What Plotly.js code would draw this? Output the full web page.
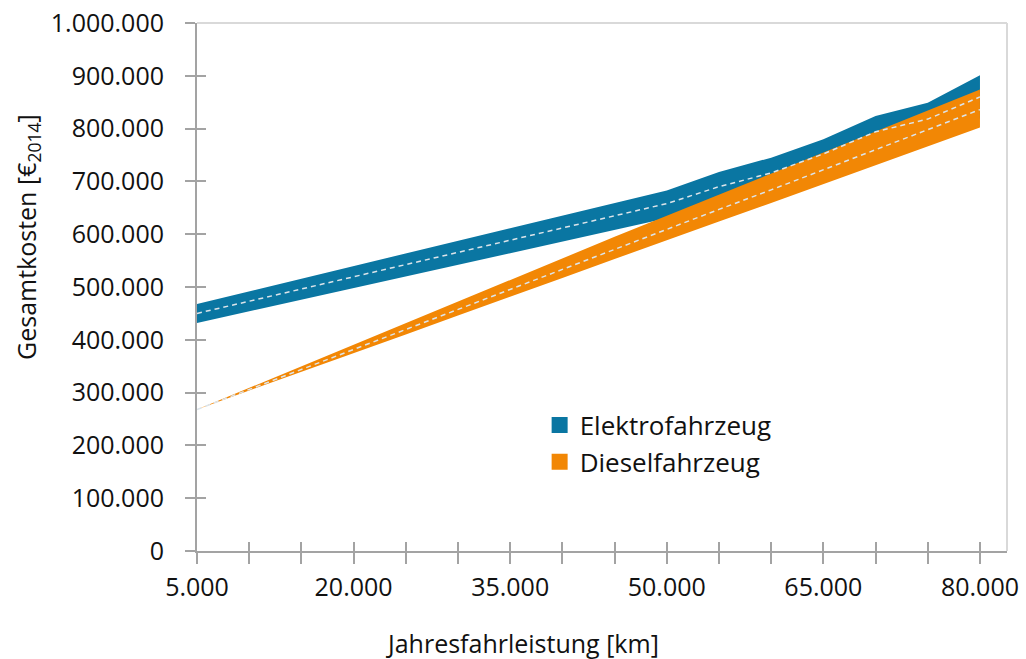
<!DOCTYPE html>
<html>
<head>
<meta charset="utf-8">
<script src="https://cdn.plot.ly/plotly-3.0.1.min.js"></script>
<style>html,body{margin:0;padding:0;background:#fff;}#chart{width:1026px;height:659px;}</style>
</head>
<body>
<div id="chart"></div>
<script>
// Jahresfahrleistung [km]
const km = [5000, 10000, 15000, 20000, 25000, 30000, 35000, 40000, 45000, 50000, 55000, 60000, 65000, 70000, 75000, 80000];

// Elektrofahrzeug: lower bound, mean (dashed), upper bound [€2014]
const elektroLow  = [432000, 454000, 476000, 498000, 520000, 542000, 564000, 586000, 608000, 630000, 662000, 687000, 724000, 764000, 787000, 819000];
const elektroMid  = [450000, 473000, 496000, 519000, 542000, 566000, 589000, 612000, 635000, 658000, 690000, 716000, 752000, 794000, 818000, 860000];
const elektroHigh = [468000, 492000, 516000, 540000, 564000, 588000, 611000, 635000, 659000, 683000, 718000, 745000, 780000, 824000, 849000, 901000];

// Dieselfahrzeug: lower bound, mean (dashed), upper bound [€2014]
const dieselLow  = [268000, 304000, 339000, 375000, 410000, 446000, 482000, 517000, 553000, 589000, 624000, 659000, 695000, 731000, 766000, 802000];
const dieselMid  = [268000, 306000, 344000, 382000, 420000, 458000, 496000, 533000, 571000, 610000, 647000, 684000, 722000, 760000, 798000, 836000];
const dieselHigh = [268000, 309000, 350000, 391000, 432000, 473000, 514000, 554000, 595000, 635000, 675000, 714000, 755000, 795000, 835000, 874000];

// Tick labels
const xTickVals = [5000, 20000, 35000, 50000, 65000, 80000];
const xTickText = ['5.000', '20.000', '35.000', '50.000', '65.000', '80.000'];
const yTickVals = [0, 100000, 200000, 300000, 400000, 500000, 600000, 700000, 800000, 900000, 1000000];
const yTickText = ['0', '100.000', '200.000', '300.000', '400.000', '500.000', '600.000', '700.000', '800.000', '900.000', '1.000.000'];

const seriesNames = ['Elektrofahrzeug', 'Dieselfahrzeug'];
const BLUE = '#0a76a2';
const ORANGE = '#f28705';
const DASH = '#dce4ea';
const FONT = 'Open Sans, Noto Sans, sans-serif';
const TXT = '#111111';

function band(low, high, color) {
  return {
    x: km.concat(km.slice().reverse()),
    y: high.concat(low.slice().reverse()),
    type: 'scatter', mode: 'lines', fill: 'toself',
    fillcolor: color, line: {width: 0, color: color},
    showlegend: false, hoverinfo: 'skip'
  };
}
function mid(vals) {
  return {
    x: km, y: vals, type: 'scatter', mode: 'lines',
    line: {color: DASH, width: 1.5, dash: '5px,4px'},
    showlegend: false, hoverinfo: 'skip'
  };
}
function legendItem(name, color) {
  return {
    x: [null], y: [null], type: 'scatter', mode: 'markers', name: name,
    marker: {symbol: 'square', size: 16, color: color}
  };
}
// invisible helpers so the overlay axes (inner halves of the crossing ticks) are drawn
function helper(xa, ya) {
  return {x: [km[0]], y: [0], xaxis: xa, yaxis: ya, type: 'scatter', mode: 'markers',
          marker: {opacity: 0, size: 1}, showlegend: false, hoverinfo: 'skip'};
}

const data = [
  band(elektroLow, elektroHigh, BLUE),
  band(dieselLow, dieselHigh, ORANGE),
  mid(elektroMid),
  mid(dieselMid),
  legendItem(seriesNames[0], BLUE),
  legendItem(seriesNames[1], ORANGE),
  helper('x2', 'y'),
  helper('x', 'y2')
];

const xRange = [5000, 82590];
const axisCol = '#a3a3a3';

const layout = {
  width: 1026, height: 659,
  margin: {l: 197, r: 19, t: 23, b: 108},
  paper_bgcolor: '#ffffff', plot_bgcolor: '#ffffff',
  font: {family: FONT, size: 26, color: TXT},
  showlegend: true,
  legend: {
    x: 0.423, y: 0.283, xanchor: 'left', yanchor: 'top',
    font: {family: FONT, size: 26, color: TXT},
    bgcolor: 'rgba(0,0,0,0)', itemwidth: 30, tracegroupgap: 0
  },
  xaxis: {
    range: xRange, showgrid: false, zeroline: false,
    showline: true, linecolor: axisCol, linewidth: 2,
    tickmode: 'array', tickvals: xTickVals, ticktext: xTickText,
    ticks: 'outside', ticklen: 11, tickwidth: 2, tickcolor: axisCol,
    minor: {tick0: 5000, dtick: 5000, ticks: 'outside', ticklen: 11, tickwidth: 2, tickcolor: axisCol, showgrid: false},
    ticklabelstandoff: 2,
    tickfont: {family: FONT, size: 25, color: TXT},
    fixedrange: true
  },
  xaxis2: {
    overlaying: 'x', anchor: 'y', side: 'bottom', range: xRange, showgrid: false, zeroline: false,
    tickmode: 'linear', tick0: 5000, dtick: 5000, ticks: 'inside', ticklen: 9, tickwidth: 2, tickcolor: axisCol,
    showticklabels: false, showline: false, fixedrange: true
  },
  yaxis: {
    range: [0, 1000000], showgrid: false, zeroline: false,
    showline: true, linecolor: axisCol, linewidth: 2,
    tickmode: 'array', tickvals: yTickVals, ticktext: yTickText,
    ticks: 'outside', ticklen: 10, tickwidth: 2, tickcolor: axisCol,
    ticklabelstandoff: 16,
    tickfont: {family: FONT, size: 25, color: TXT},
    fixedrange: true
  },
  yaxis2: {
    overlaying: 'y', anchor: 'x', side: 'left', range: [0, 1000000], showgrid: false, zeroline: false,
    tickmode: 'linear', tick0: 0, dtick: 100000, ticks: 'inside', ticklen: 9, tickwidth: 2, tickcolor: axisCol,
    showticklabels: false, showline: false, fixedrange: true
  },
  shapes: [
    {type: 'line', xref: 'paper', yref: 'paper', x0: 0, x1: 1, y0: 1, y1: 1, line: {color: '#d9d9d9', width: 2}, layer: 'below'},
    {type: 'line', xref: 'paper', yref: 'paper', x0: 1, x1: 1, y0: 0, y1: 1, line: {color: '#d9d9d9', width: 2}, layer: 'below'}
  ],
  annotations: [
    {text: 'Jahresfahrleistung [km]', xref: 'paper', yref: 'paper', x: 0.4, y: -0.175,
     xanchor: 'center', yanchor: 'middle', showarrow: false, font: {family: FONT, size: 25, color: TXT}},
    {text: 'Gesamtkosten [€<sub>2014</sub>]', xref: 'paper', yref: 'paper', x: -0.21, y: 0.595,
     xanchor: 'center', yanchor: 'middle', textangle: -90, showarrow: false,
     font: {family: FONT, size: 25, color: TXT}}
  ]
};
layout.annotations[0].x = (522 - 197) / (1007 - 197);
layout.annotations[0].y = -(643 - 551) / (551 - 23);
layout.annotations[1].x = (27 - 197) / (1007 - 197);
layout.annotations[1].y = (551 - 237) / (551 - 23);

Plotly.newPlot('chart', data, layout, {displayModeBar: false, staticPlot: true});
</script>
</body>
</html>
